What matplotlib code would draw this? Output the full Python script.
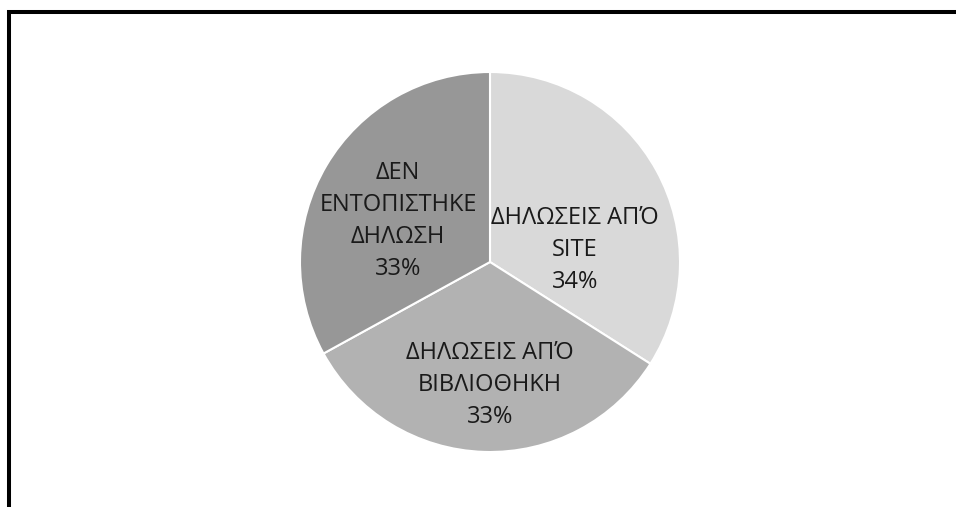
import matplotlib
matplotlib.use('Agg')
import matplotlib.pyplot as plt
from matplotlib.patches import Rectangle

plt.rcParams['font.family'] = ['Open Sans', 'DejaVu Sans']

labels = ['ΔΗΛΩΣΕΙΣ ΑΠΌ\nSITE', 'ΔΗΛΩΣΕΙΣ ΑΠΌ\nΒΙΒΛΙΟΘΗΚΗ', 'ΔΕΝ\nΕΝΤΟΠΙΣΤΗΚΕ\nΔΗΛΩΣΗ']
shares = [34, 33, 33]
colors = ['#d9d9d9', '#b2b2b2', '#979797']

# label centres, offset from pie centre in pixels
label_pos = [(85, 12), (0, -123), (-92, 41)]

W, H = 956, 507
fig = plt.figure(figsize=(W / 100, H / 100), dpi=100)
ax = fig.add_axes([0, 0, 1, 1])

cx, cy, r = 490, H - 262, 190
ax.pie(shares, colors=colors, startangle=90, counterclock=False,
       center=(cx, cy), radius=r, frame=True,
       wedgeprops=dict(edgecolor='white', linewidth=1.5))
ax.set_xlim(0, W)
ax.set_ylim(0, H)
ax.set_aspect('equal')
ax.axis('off')

for lab, val, (dx, dy) in zip(labels, shares, label_pos):
    ax.text(cx + dx, cy + dy, f'{lab}\n{val}%', ha='center', va='center',
            fontsize=17, color='#1a1a1a', linespacing=1.45)

# frame of the surrounding box (only top and left visible)
fig.patches.append(Rectangle((9 / W, -0.1), 1.2, (H - 11.5) / H + 0.1,
                             transform=fig.transFigure, fill=False,
                             edgecolor='black', linewidth=2.9))

fig.savefig('out.png', dpi=100)
